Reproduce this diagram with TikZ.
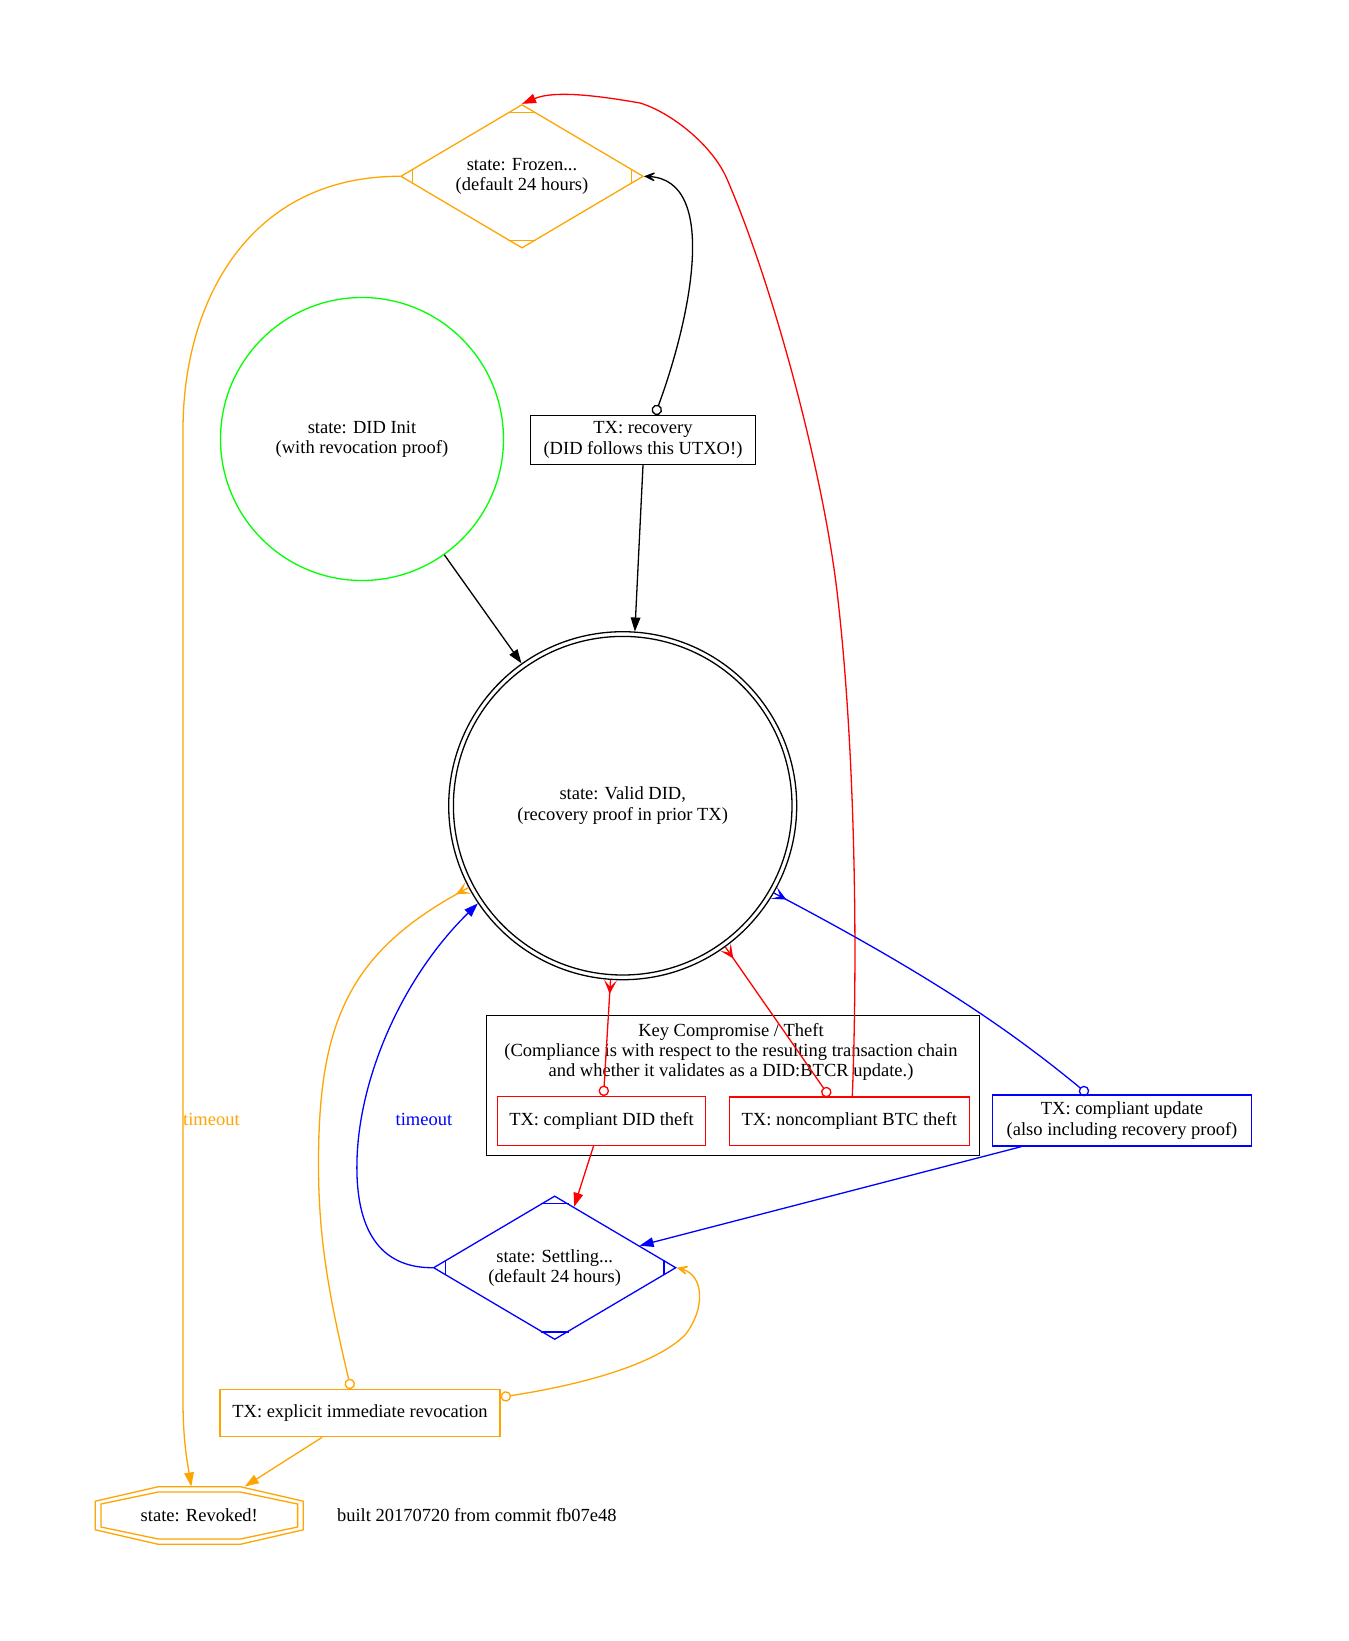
\documentclass[tikz,border=0pt]{standalone}
\usepackage{fontspec}
\setmainfont{Liberation Serif}
\usetikzlibrary{arrows.meta,shapes.geometric,calc}

\definecolor{gvorange}{HTML}{FFA500}
\definecolor{gvblue}{HTML}{0000FF}
\definecolor{gvred}{HTML}{FF0000}
\definecolor{gvgreen}{HTML}{00FF00}

% crow's foot: prongs spread towards the node, the edge line forms the middle prong
\pgfdeclarearrow{
  name = Crow,
  parameters = {\the\pgfarrowlength,\the\pgfarrowwidth},
  setup code = {
    \pgfarrowssettipend{0pt}
    \pgfarrowssetbackend{-\pgfarrowlength}
    \pgfarrowssetlineend{0pt}
    \pgfarrowssavethe\pgfarrowlength
    \pgfarrowssavethe\pgfarrowwidth
  },
  drawing code = {
    \pgfpathmoveto{\pgfqpoint{0pt}{.5\pgfarrowwidth}}
    \pgfpathlineto{\pgfqpoint{-\pgfarrowlength}{0pt}}
    \pgfpathlineto{\pgfqpoint{0pt}{-.5\pgfarrowwidth}}
    \pgfpathlineto{\pgfqpoint{-.5\pgfarrowlength}{0pt}}
    \pgfpathclose
    \pgfusepathqfill
  },
  defaults = {length = 14pt, width = 13pt}
}

\newcommand\lblfont{\fontsize{18.5pt}{20.3pt}\selectfont}

\tikzset{
  every node/.style={font=\lblfont, align=center},
  edge/.style={line width=1.3pt},
  txbox/.style={draw, rectangle, inner sep=0pt, line width=1.3pt},
  mdiamond/.style={draw, diamond, aspect=1.69, inner sep=0pt,
    minimum width=242.6pt, minimum height=143.6pt, line width=1.3pt},
  nrm/.style={-{Triangle[length=14pt,width=9.6pt]}},
  odvee/.style={{Circle[open,length=10.5pt,width=10.5pt]}-{Stealth[length=16pt,width=14pt,inset=10pt]}},
  odcrow/.style={{Circle[open,length=10.5pt,width=10.5pt]}-{Crow[length=14pt,width=13pt]}},
}

% the small cuts near the corners of a diamond state
\newcommand\mdticks[2]{%
  \draw[#2, line width=1.3pt]
    ($(#1.north)+(-14,8.3)$) -- ($(#1.north)+(14,8.3)$)
    ($(#1.south)+(-14,-8.3)$) -- ($(#1.south)+(14,-8.3)$)
    ($(#1.west)+(12.6,-7.5)$) -- ($(#1.west)+(12.6,7.5)$)
    ($(#1.east)+(-12.6,-7.5)$) -- ($(#1.east)+(-12.6,7.5)$);
}

\begin{document}
\begin{tikzpicture}[x=1pt,y=-1pt]
\fill[white] (0,0) rectangle (1349,1641);
\useasboundingbox (0,0) rectangle (1349,1641);

% states and transactions
\node[mdiamond, draw=gvorange] (frozen) at (522,176.3) {state: Frozen...\\(default 24 hours)};
\mdticks{frozen}{gvorange}
\node[circle, draw=gvgreen, line width=1.3pt, minimum size=283pt, inner sep=0pt] (init) at (362,439)
  {state: DID Init\\(with revocation proof)};
\node[txbox, minimum width=225pt, minimum height=49pt] (rec) at (643,440)
  {TX: recovery\\(DID follows this UTXO!)};
\node[circle, draw, line width=1.3pt, minimum size=348pt, inner sep=0pt] (valid) at (622.7,805.7)
  {state: Valid DID,\\(recovery proof in prior TX)};
\draw[line width=1.3pt] (valid.center) circle[radius=169.3pt];

\node[draw, line width=1.3pt, minimum width=492.9pt, minimum height=140.2pt, inner sep=0pt] (cluster) at (733.15,1085.3) {};
\node (clusterlbl) at (731,1052) {Key Compromise / Theft\\(Compliance is with respect to the resulting transaction chain\\and whether it validates as a DID:BTCR update.)};
\node[txbox, draw=gvred, minimum width=207.7pt, minimum height=48.6pt] (cdt) at (601.5,1121) {TX: compliant DID theft};
\node[txbox, draw=gvred, minimum width=239.7pt, minimum height=48.6pt] (nct) at (849.3,1121.3) {TX: noncompliant BTC theft};
\node[txbox, draw=gvblue, minimum width=259.5pt, minimum height=51pt] (upd) at (1122,1120.5)
  {TX: compliant update\\(also including recovery proof)};

\node[mdiamond, draw=gvblue] (settle) at (554.7,1267.7) {state: Settling...\\(default 24 hours)};
\mdticks{settle}{gvblue}
\node[txbox, draw=gvorange, minimum width=280pt, minimum height=47pt] (rvk) at (360,1413.2)
  {TX: explicit immediate revocation};

\node[minimum width=208pt, minimum height=57.6pt, inner sep=0pt] (rev) at (199.3,1515.5) {state: Revoked!};
\begin{scope}[shift={(rev.center)}, gvorange, line width=1.3pt]
  \draw (-41,-28.8) -- (41,-28.8) -- (104,-14.3) -- (104,14.3) -- (41,28.8) -- (-41,28.8) -- (-104,14.3) -- (-104,-14.3) -- cycle;
  \draw (-41,-23.5) -- (41,-23.5) -- (98.3,-11.5) -- (98.3,11.5) -- (41,23.5) -- (-41,23.5) -- (-98.3,11.5) -- (-98.3,-11.5) -- cycle;
\end{scope}
\node (built) at (476.8,1515.5) {built 20170720 from commit fb07e48};

% black transitions
\draw[edge, nrm] (init) -- (valid);
\draw[edge, nrm] (rec.south) -- (valid.86.8);
\draw[edge, odvee] ($(rec.north)+(12,0)$) .. controls (690,320) and (720,180) .. (frozen.east);

% red transitions
\draw[edge, gvred, nrm] ($(nct.north)+(3,0)$) .. controls (858,950) and (855,750) .. (838,600)
  .. controls (825,480) and (775,290) .. (727,179)
  .. controls (712,144.3) and (670,112) .. (640,103)
  .. controls (600,96) and (555,90) .. (frozen.north);
\draw[edge, gvred, odcrow] ($(cdt.north)+(2,0)$) -- (valid.266.1);
\draw[edge, gvred, odcrow] ($(nct.north)+(-20,0)$) -- (valid.306.3);
\draw[edge, gvred, nrm] (cdt) -- (settle);

% blue transitions
\draw[edge, gvblue, odcrow] ($(upd.north)+(-34,0)$) .. controls (1010,1030) and (930,975) .. (valid.330.4);
\draw[edge, gvblue, nrm] (upd) -- (settle);
\draw[edge, gvblue, nrm] (settle.west) .. controls (380,1268) and (355,1230) .. (357,1160)
  .. controls (359,1080) and (400,980) .. (valid.214.4);
\node[text=gvblue] (tblue) at (423.9,1119.9) {timeout};

% orange transitions
\draw[edge, gvorange, odcrow] ($(rvk.north)+(-9,0)$) .. controls (330,1300) and (318,1240) .. (318.5,1160)
  .. controls (319,1020) and (350,950) .. (valid.208.3);
\draw[edge, gvorange, odvee] ($(rvk.east)+(0,-16)$) .. controls (580,1385) and (655,1365) .. (685,1335)
  .. controls (705,1310) and (705,1275) .. (settle.east);
\draw[edge, gvorange, nrm] (rvk) -- (rev);
\draw[edge, gvorange, nrm] (frozen.west) .. controls (250,176) and (183,300) .. (183,430)
  -- (183,1400) .. controls (183,1440) and (187,1460) .. ($(rev.north)+(-8,0)$);
\node[text=gvorange] (torange) at (211.4,1119.9) {timeout};

\end{tikzpicture}
\end{document}
